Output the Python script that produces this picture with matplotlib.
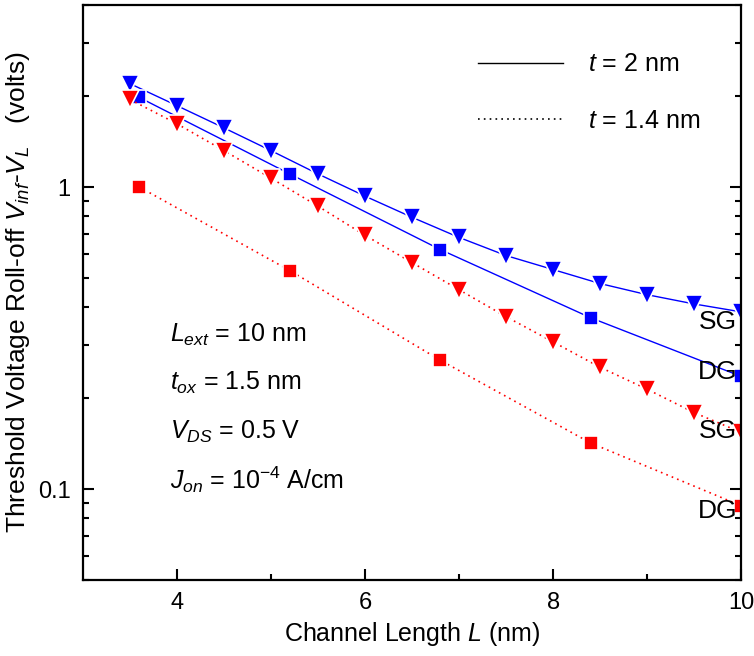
import numpy as np
import matplotlib
matplotlib.use("Agg")
import matplotlib.pyplot as plt
from matplotlib.lines import Line2D
from matplotlib.ticker import FixedLocator, LogLocator, NullFormatter

plt.rcParams["font.family"] = ["Liberation Sans", "DejaVu Sans"]
plt.rcParams["mathtext.fontset"] = "custom"
plt.rcParams["mathtext.rm"] = "Liberation Sans"
plt.rcParams["mathtext.it"] = "Liberation Sans:italic"

# Channel length (nm) and threshold roll-off (V)
L_sg = [3.5, 4.0, 4.5, 5.0, 5.5, 6.0, 6.5, 7.0, 7.5, 8.0, 8.5, 9.0, 9.5, 10.0]
L_dg = [3.6, 5.2, 6.8, 8.4, 10.0]

sg_t2 = [2.20, 1.86, 1.57, 1.32, 1.105, 0.933, 0.794, 0.681, 0.593, 0.533,
         0.479, 0.440, 0.410, 0.386]
dg_t2 = [1.98, 1.105, 0.621, 0.369, 0.236]
sg_t14 = [1.95, 1.62, 1.32, 1.07, 0.864, 0.692, 0.562, 0.457, 0.372, 0.307,
          0.253, 0.214, 0.179, 0.154]
dg_t14 = [1.00, 0.529, 0.267, 0.142, 0.088]

# right-hand curve labels (text, y position)
end_labels = [("SG", 0.358), ("DG", 0.244), ("SG", 0.156), ("DG", 0.0845)]

params = [r"$L_{ext}$ = 10 nm",
          r"$t_{ox}$ = 1.5 nm",
          r"$V_{DS}$ = 0.5 V",
          r"$J_{on}$ = 10$^{-4}$ A/cm"]

fig = plt.figure(figsize=(7.54, 6.56), dpi=100)
ax = fig.add_axes([0.110, 0.116, 0.873, 0.876])

blue = "#0000ff"
red = "#ff0000"
dot = (0, (1, 2.5))

ax.plot(L_sg, sg_t2, color=blue, lw=1.0, marker="v", ms=12.5, mec="white", mew=1.2)
ax.plot(L_dg, dg_t2, color=blue, lw=1.0, marker="s", ms=10, mec="white", mew=1.2)
ax.plot(L_sg, sg_t14, color=red, lw=1.2, ls=dot, marker="v", ms=12.5, mec="white", mew=1.2)
ax.plot(L_dg, dg_t14, color=red, lw=1.2, ls=dot, marker="s", ms=10, mec="white", mew=1.2)

ax.set_yscale("log")
ax.set_xlim(3, 10)
ax.set_ylim(0.05, 4)

ax.xaxis.set_major_locator(FixedLocator([4, 6, 8, 10]))
ax.xaxis.set_minor_locator(FixedLocator([5, 7, 9]))
ax.yaxis.set_major_locator(FixedLocator([0.1, 1]))
ax.set_yticklabels(["0.1", "1"])
ax.yaxis.set_minor_locator(LogLocator(subs=np.arange(2, 10)))
ax.yaxis.set_minor_formatter(NullFormatter())

ax.tick_params(which="both", direction="in", left=True, right=True,
               top=False, bottom=True, width=1.5, labelsize=17, pad=9)
ax.tick_params(which="major", length=8)
ax.tick_params(which="minor", length=4.5)
for s in ax.spines.values():
    s.set_linewidth(1.6)

ax.set_xlabel(r"Channel Length $L$ (nm)", fontsize=18, labelpad=4)
ax.set_ylabel(r"Threshold Voltage Roll-off $V_{inf}$-$V_L$   (volts)", fontsize=19, labelpad=4)

for txt, yv in end_labels:
    ax.text(9.96, yv, txt, fontsize=19, ha="right", va="center")

for i, p in enumerate(params):
    ax.text(0.132, 0.426 - i * 0.084, p, transform=ax.transAxes,
            fontsize=18, ha="left", va="center")

handles = [Line2D([], [], color="black", lw=1.0),
           Line2D([], [], color="black", lw=1.2, ls=dot)]
ax.legend(handles, [r"$t$ = 2 nm", r"$t$ = 1.4 nm"], loc="upper left",
          bbox_to_anchor=(0.600, 0.918), frameon=False, fontsize=18,
          handlelength=3.4, handletextpad=1.0, labelspacing=1.3, borderpad=0,
          borderaxespad=0)

fig.savefig("out.png", dpi=100)
